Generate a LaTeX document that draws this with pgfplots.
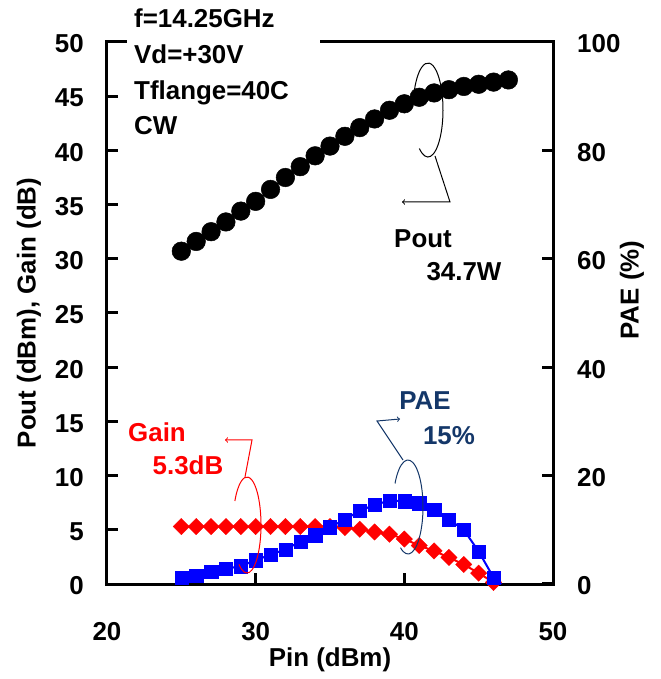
\documentclass[border=0pt]{standalone}
\usepackage{pgfplots}
\pgfplotsset{compat=1.18}
\usepackage{fontspec}
\setmainfont{Liberation Sans}
\definecolor{paenavy}{RGB}{20,55,105}

\begin{document}
\fontsize{26}{31}\selectfont\bfseries
\begin{tikzpicture}
% left axis: Pout and Gain
\begin{axis}[
  at={(0,0)}, anchor=south west,
  scale only axis, width=446bp, height=542bp,
  xmin=20, xmax=50, ymin=0, ymax=50,
  xtick={20,30,40,50}, ytick={0,5,...,50},
  tick align=inside, xtick pos=bottom, ytick pos=left,
  major tick length=11bp,
  axis line style={line width=3bp},
  tick style={line width=3bp, black},
  /pgf/number format/assume math mode=true,
  xticklabel style={anchor=base, inner sep=0pt, yshift=-56bp},
  yticklabel style={anchor=east, inner sep=0pt, xshift=-23bp, yshift=-2bp},
  xlabel={Pin (dBm)}, ylabel={Pout (dBm), Gain (dB)},
  xlabel style={at={(axis description cs:0.5,-0.1531)}, anchor=base, inner sep=0pt},
  ylabel style={at={(axis description cs:-0.1749,0.5)}, anchor=center, inner sep=0pt},
]
\addplot[black, line width=1.5bp, mark=*, mark size=9.3bp, mark options={line width=0.5bp}]
coordinates {
  (25,30.7) (26,31.6) (27,32.5) (28,33.4) (29,34.4) (30,35.3) (31,36.4) (32,37.5)
  (33,38.5) (34,39.5) (35,40.4) (36,41.3) (37,42.1) (38,42.9) (39,43.7) (40,44.3)
  (41,44.9) (42,45.3) (43,45.6) (44,45.9) (45,46.1) (46,46.3) (47,46.5)
};
\addplot[red, line width=2bp, no marks] coordinates {(46,0.15) (47,-0.5)};
\addplot[red, line width=2bp, mark=square*, mark size=5.8bp, mark options={rotate=45, line width=0.3bp}]
coordinates {
  (25,5.3) (26,5.3) (27,5.3) (28,5.3) (29,5.3) (30,5.3) (31,5.3) (32,5.3)
  (33,5.3) (34,5.3) (35,5.3) (36,5.2) (37,5.05) (38,4.8) (39,4.6) (40,4.15)
  (41,3.55) (42,3.05) (43,2.45) (44,1.8) (45,1.0) (46,0.15)
};
\end{axis}
% right axis: PAE
\begin{axis}[
  at={(0,0)}, anchor=south west,
  scale only axis, width=446bp, height=542bp,
  xmin=20, xmax=50, ymin=0, ymax=100,
  axis x line=none, axis y line*=right,
  ytick={0,20,...,100},
  tick align=inside, major tick length=11bp,
  axis line style={line width=3bp},
  tick style={line width=3bp, black},
  /pgf/number format/assume math mode=true,
  yticklabel style={anchor=west, inner sep=0pt, xshift=24bp, yshift=-2bp},
  ylabel={PAE (\%)},
  ylabel style={at={(axis description cs:1.1771,0.5424)}, anchor=center, inner sep=0pt},
]
\addplot[blue, line width=2bp, no marks] coordinates {(46,1.2) (46.9,-1)};
\addplot[blue, line width=2bp, mark=square*, mark size=6.6bp, mark options={line width=0.3bp}]
coordinates {
  (25,1.2) (26,1.6) (27,2.3) (28,2.8) (29,3.3) (30,4.4) (31,5.4) (32,6.4)
  (33,7.8) (34,9.0) (35,10.5) (36,11.9) (37,13.5) (38,14.6) (39,15.4) (40,15.3)
  (41,14.9) (42,13.7) (43,11.9) (44,10.0) (45,6.0) (46,1.2)
};
\end{axis}

% conditions box over the top frame
\fill[white] (20bp,440bp) rectangle (213bp,600bp);
\node[anchor=base west, inner sep=0pt] at (27bp,556bp) {f=14.25GHz};
\node[anchor=base west, inner sep=0pt] at (27bp,520bp) {Vd=+30V};
\node[anchor=base west, inner sep=0pt] at (27bp,484bp) {Tflange=40C};
\node[anchor=base west, inner sep=0pt] at (27bp,449bp) {CW};

% Pout callout
\draw[black, line width=1bp] ([shift={(235:15bp and 47bp)}]321bp,474bp)
  arc[start angle=235, end angle=520, x radius=15bp, y radius=47bp];
\draw[black, line width=1bp, ->] (328bp,428bp) -- (343bp,382bp) -- (295bp,382bp);
\node[anchor=base, inner sep=0pt] at (316bp,336bp) {Pout};
\node[anchor=base, inner sep=0pt] at (357bp,303bp) {34.7W};

% PAE callout
\draw[paenavy, line width=1bp] ([shift={(240:15bp and 47bp)}]301bp,77bp)
  arc[start angle=240, end angle=510, x radius=15bp, y radius=47bp];
\draw[paenavy, line width=1bp, ->] (296bp,124bp) -- (270bp,163bp) -- (293bp,165bp);
\node[anchor=base, inner sep=0pt, text=paenavy] at (318bp,174bp) {PAE};
\node[anchor=base, inner sep=0pt, text=paenavy] at (342bp,139bp) {15\%};

% Gain callout
\draw[red, line width=1bp] ([shift={(235:14bp and 48bp)}]140bp,59bp)
  arc[start angle=235, end angle=510, x radius=14bp, y radius=48bp];
\draw[red, line width=1bp, ->] (138bp,107bp) -- (145bp,144bp) -- (118bp,144bp);
\node[anchor=base, inner sep=0pt, text=red] at (50bp,142bp) {Gain};
\node[anchor=base, inner sep=0pt, text=red] at (81bp,109bp) {5.3dB};

\pgfresetboundingbox
\path (-107bp,-95bp) rectangle (554bp,584bp);
\end{tikzpicture}
\end{document}
